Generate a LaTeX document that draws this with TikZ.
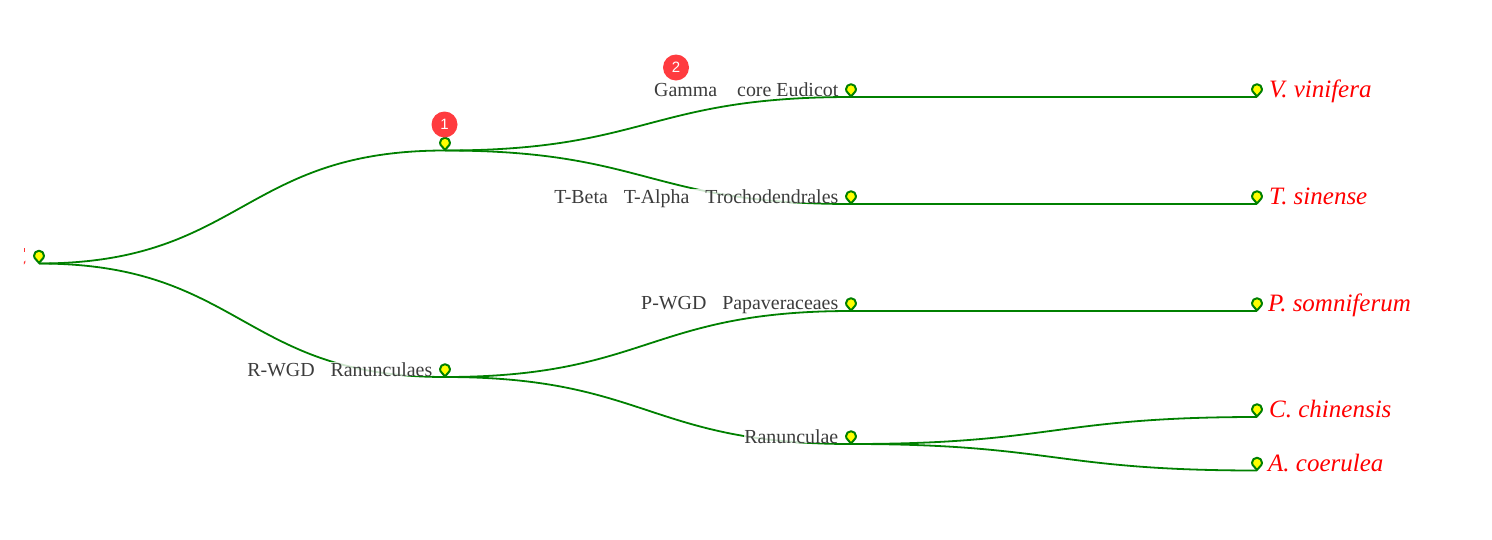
\documentclass[tikz,border=0pt]{standalone}
\usepackage{fontspec}
\setmainfont{Liberation Serif}
\setsansfont{Liberation Sans}
\usetikzlibrary{calc}
\definecolor{linkgreen}{HTML}{008000}
\definecolor{labelgrey}{HTML}{3C3C3C}
\definecolor{badgered}{HTML}{FF3B3F}
\definecolor{pinyellow}{HTML}{FFFF00}
\tikzset{
  x=1pt,y=-1pt,
  link/.style={draw=linkgreen,line width=1.8pt},
  taxon/.style={anchor=base east,inner sep=0pt,text depth=0pt,text=labelgrey,font=\fontsize{19.9}{22}\selectfont,fill=white,fill opacity=.8,text opacity=1},
  species/.style={anchor=base west,inner sep=0pt,text=red,font=\fontsize{25}{28}\selectfont\itshape},
  badge/.style={circle,fill=badgered,minimum size=26pt,inner sep=0pt,text=white,font=\sffamily\fontsize{15}{16}\selectfont},
  pinmark/.pic={\draw[draw=linkgreen,fill=pinyellow,line width=2pt,line join=round]
     (0,-0.6) .. controls (-1.5,-3.2) and (-5,-4.8) .. (-5,-7.8)
     arc[start angle=180,end angle=360,radius=5]
     .. controls (5,-4.8) and (1.5,-3.2) .. (0,-0.6) -- cycle;}
}
\newcommand{\treelink}[2]{\draw[link] (#1) .. controls ($(#1)!.5!(#2 |- #1)$) and ($(#2)!.5!(#1 |- #2)$) .. (#2);}
\begin{document}
\begin{tikzpicture}
\useasboundingbox (0,0) rectangle (1492,539);
\coordinate (root) at (39,263.5);
\coordinate (n1) at (445,150.5);
\coordinate (n2) at (445,377);
\coordinate (n3) at (851,97);
\coordinate (n4) at (851,204);
\coordinate (n5) at (851,311);
\coordinate (n6) at (851,444);
\coordinate (l1) at (1257,97);
\coordinate (l2) at (1257,204);
\coordinate (l3) at (1257,311);
\coordinate (l4) at (1257,417);
\coordinate (l5) at (1257,470.5);
\treelink{root}{n1}
\treelink{root}{n2}
\treelink{n1}{n3}
\treelink{n1}{n4}
\treelink{n2}{n5}
\treelink{n2}{n6}
\treelink{n3}{l1}
\treelink{n4}{l2}
\treelink{n5}{l3}
\treelink{n6}{l4}
\treelink{n6}{l5}
\node[taxon] (t3) at (838.5,96) {Gamma\hspace{20pt}core Eudicot};
\node[taxon] (t4) at (838.5,203) {T-Beta\hspace{15.9pt}T-Alpha\hspace{15.9pt}Trochodendrales};
\node[taxon] (t5) at (838.5,309.5) {P-WGD\hspace{15.9pt}Papaveraceaes};
\node[taxon] (t6) at (838.5,443) {Ranunculae};
\node[taxon] (t2) at (432.5,376) {R-WGD\hspace{15.9pt}Ranunculaes};
\foreach \c in {root,n1,n2,n3,n4,n5,n6,l1,l2,l3,l4,l5} \pic at (\c) {pinmark};
\node[species] (s1) at (1269,97) {V. vinifera};
\node[species] (s2) at (1269,204) {T. sinense};
\node[species] (s3) at (1268,311) {P. somniferum};
\node[species] (s4) at (1269,417) {C. chinensis};
\node[species] (s5) at (1268,471) {A. coerulea};
\node[badge] (b1) at (444.5,124.5) {1};
\node[badge] (b2) at (676,67.5) {2};
\fill[red!80] (23.6,248) rectangle (24.6,251.5);
\fill[red!80] (23.8,262) -- (25.4,260.5) -- (25.2,263) -- (23.8,264.5) -- cycle;
\end{tikzpicture}
\end{document}
